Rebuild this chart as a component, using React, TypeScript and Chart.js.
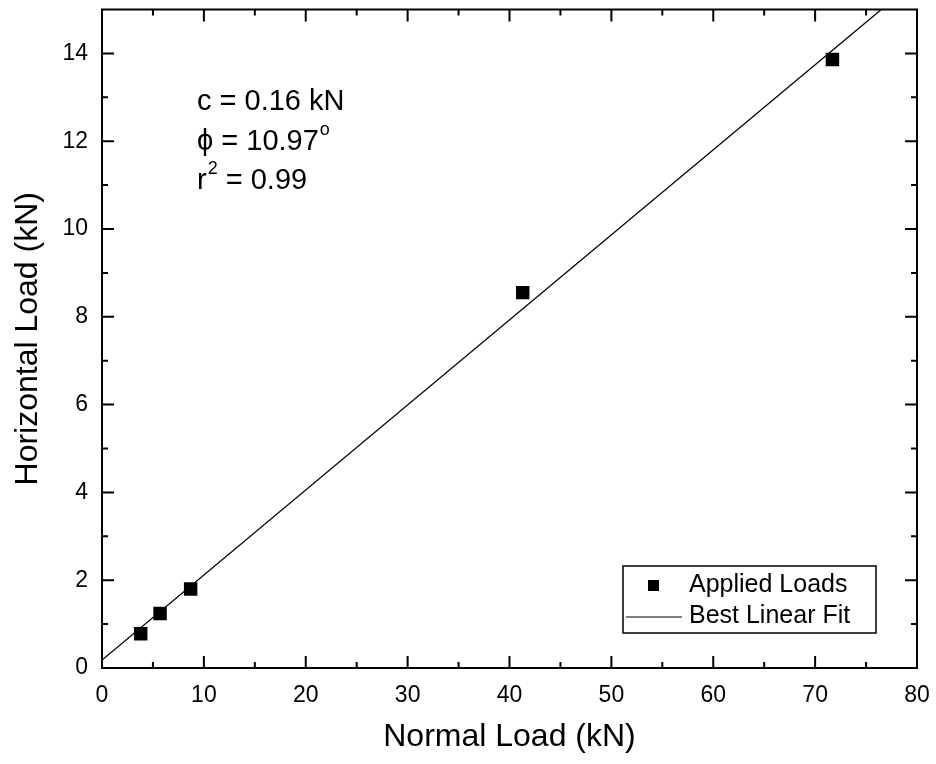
import React, { useEffect, useRef } from 'react';
import { Chart, registerables } from 'chart.js';

Chart.register(...registerables);

// ---- data ----
const appliedX = [3.8, 5.7, 8.7, 41.3, 71.7];
const appliedY = [0.78, 1.24, 1.8, 8.55, 13.86];
const fitX = [0, 76.5];
const fitY = [0.18, 15.0];

const xTicks = [0, 10, 20, 30, 40, 50, 60, 70, 80];
const xMinor = [5, 15, 25, 35, 45, 55, 65, 75];
const yTicks = [0, 2, 4, 6, 8, 10, 12, 14];
const yMinor = [1, 3, 5, 7, 9, 11, 13];

const xTitle = 'Normal Load (kN)';
const yTitle = 'Horizontal Load (kN)';
const legendLabels = ['Applied Loads', 'Best Linear Fit'];
const statLines = [
  [{ t: 'c = 0.16 kN' }],
  [{ t: 'ϕ = 10.97' }, { t: 'o', sup: true }],
  [{ t: 'r' }, { t: '2', sup: true }, { t: ' = 0.99' }],
];

const FONT = '"Liberation Sans", Arial, Helvetica, sans-serif';

const framePlugin = {
  id: 'frameTicks',
  afterDatasetsDraw(chart: any) {
    const { ctx, chartArea: a, scales } = chart;
    const xs = scales.x;
    const ys = scales.y;
    ctx.save();
    ctx.strokeStyle = '#000';
    ctx.lineWidth = 2;
    ctx.strokeRect(a.left, a.top, a.right - a.left, a.bottom - a.top);
    const major = 12;
    const minor = 6;
    ctx.beginPath();
    const xt = (v: number, len: number) => {
      const px = xs.getPixelForValue(v);
      ctx.moveTo(px, a.bottom);
      ctx.lineTo(px, a.bottom - len);
      ctx.moveTo(px, a.top);
      ctx.lineTo(px, a.top + len);
    };
    const yt = (v: number, len: number) => {
      const py = ys.getPixelForValue(v);
      ctx.moveTo(a.left, py);
      ctx.lineTo(a.left + len, py);
      ctx.moveTo(a.right, py);
      ctx.lineTo(a.right - len, py);
    };
    xTicks.forEach((v) => xt(v, major));
    xMinor.forEach((v) => xt(v, minor));
    yTicks.forEach((v) => yt(v, major));
    yMinor.forEach((v) => yt(v, minor));
    ctx.stroke();

    // statistics text
    ctx.fillStyle = '#000';
    ctx.textBaseline = 'alphabetic';
    ctx.textAlign = 'left';
    const tx = a.left + 95;
    const baselines = [a.top + 100, a.top + 140, a.top + 179];
    statLines.forEach((segs: any[], i: number) => {
      let x = tx;
      segs.forEach((s) => {
        if (s.sup) {
          ctx.font = `18px ${FONT}`;
          ctx.fillText(s.t, x + 1, baselines[i] - 15);
          x += ctx.measureText(s.t).width + 1;
        } else {
          ctx.font = `29px ${FONT}`;
          ctx.fillText(s.t, x, baselines[i]);
          x += ctx.measureText(s.t).width;
        }
      });
    });

    // legend box
    const bx = a.right - 294;
    const by = a.bottom - 102;
    const bw = 253;
    const bh = 67;
    ctx.fillStyle = '#fff';
    ctx.fillRect(bx, by, bw, bh);
    ctx.lineWidth = 1.5;
    ctx.strokeRect(bx, by, bw, bh);
    ctx.fillStyle = '#000';
    ctx.fillRect(bx + 25, by + 14, 11, 11);
    ctx.lineWidth = 1;
    ctx.beginPath();
    ctx.moveTo(bx + 3, by + 51);
    ctx.lineTo(bx + 59, by + 51);
    ctx.stroke();
    ctx.font = `25px ${FONT}`;
    ctx.textBaseline = 'middle';
    ctx.fillText(legendLabels[0], bx + 66, by + 19);
    ctx.fillText(legendLabels[1], bx + 66, by + 50);
    ctx.restore();
  },
};

export default function App() {
  const ref = useRef<HTMLCanvasElement | null>(null);
  useEffect(() => {
    if (!ref.current) return;
    const chart = new Chart(ref.current, {
      type: 'scatter',
      data: {
        datasets: [
          {
            label: legendLabels[1],
            type: 'line',
            data: fitX.map((x, i) => ({ x, y: fitY[i] })),
            borderColor: '#000',
            borderWidth: 1.3,
            pointRadius: 0,
            fill: false,
            tension: 0,
          },
          {
            label: legendLabels[0],
            data: appliedX.map((x, i) => ({ x, y: appliedY[i] })),
            backgroundColor: '#000',
            borderColor: '#000',
            pointStyle: 'rect',
            pointRadius: 9.5,
            borderWidth: 0,
          },
        ],
      },
      options: {
        animation: false,
        responsive: false,
        maintainAspectRatio: false,
        layout: { padding: { top: 8, right: 19, left: 0, bottom: 0 } },
        plugins: { legend: { display: false }, tooltip: { enabled: false } },
        scales: {
          x: {
            type: 'linear',
            min: 0,
            max: 80,
            afterBuildTicks: (s: any) => {
              s.ticks = xTicks.map((v) => ({ value: v }));
            },
            afterFit: (s: any) => {
              s.height = 96;
              s.paddingLeft = 0;
              s.paddingRight = 0;
            },
            grid: { display: false, drawTicks: false },
            border: { display: false },
            ticks: { color: '#000', font: { family: FONT, size: 23 }, padding: 14, maxRotation: 0 },
            title: {
              display: true,
              text: xTitle,
              color: '#000',
              font: { family: FONT, size: 32 },
              padding: { top: 0, bottom: 8 },
            },
          },
          y: {
            type: 'linear',
            min: 0,
            max: 15,
            afterBuildTicks: (s: any) => {
              s.ticks = yTicks.map((v) => ({ value: v }));
            },
            afterFit: (s: any) => {
              s.width = 102;
              s.paddingTop = 0;
              s.paddingBottom = 0;
            },
            grid: { display: false, drawTicks: false },
            border: { display: false },
            ticks: { color: '#000', font: { family: FONT, size: 23 }, padding: 14 },
            title: {
              display: true,
              text: yTitle,
              color: '#000',
              font: { family: FONT, size: 32 },
              padding: { top: 9, bottom: 0 },
            },
          },
        },
      },
      plugins: [framePlugin],
    });
    return () => chart.destroy();
  }, []);
  return (
    <div style={{ position: 'fixed', left: 0, top: 0, width: 936, height: 764, background: '#fff' }}>
      <canvas ref={ref} width={936} height={764} style={{ width: 936, height: 764 }} />
    </div>
  );
}
